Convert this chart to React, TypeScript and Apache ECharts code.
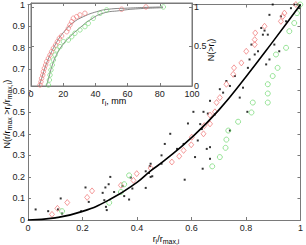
import React, { useEffect, useRef } from "react";
import * as echarts from "echarts";

// Main panel: normalised radius vs cumulative fraction
const blackDots: number[][] = [
  [0.028, 0.049], [0.074, 0.041], [0.11, 0.049], [0.12, 0.1], [0.125, 0.03], [0.195, 0.041],
  [0.211, 0.151], [0.223, 0.084], [0.274, 0.126], [0.284, 0.151], [0.28, 0.092], [0.286, 0.061],
  [0.289, 0.046], [0.296, 0.166], [0.302, 0.2], [0.316, 0.13], [0.347, 0.157], [0.353, 0.111],
  [0.371, 0.095], [0.377, 0.197], [0.383, 0.146], [0.432, 0.226], [0.432, 0.149], [0.45, 0.261],
  [0.447, 0.25], [0.456, 0.203], [0.444, 0.218], [0.45, 0.2], [0.49, 0.261], [0.502, 0.353],
  [0.49, 0.3], [0.522, 0.4], [0.547, 0.33], [0.571, 0.353], [0.575, 0.187], [0.587, 0.448],
  [0.613, 0.292], [0.607, 0.502], [0.632, 0.445], [0.638, 0.422], [0.641, 0.238], [0.66, 0.494],
  [0.656, 0.33], [0.668, 0.338], [0.668, 0.284], [0.644, 0.502], [0.623, 0.369], [0.741, 0.415],
  [0.805, 0.502], [0.668, 0.553], [0.686, 0.49], [0.704, 0.607], [0.728, 0.645], [0.716, 0.591],
  [0.741, 0.622], [0.759, 0.668], [0.777, 0.568], [0.789, 0.614], [0.807, 0.706], [0.813, 0.745],
  [0.82, 0.814], [0.844, 0.783], [0.832, 0.768], [0.862, 0.86], [0.856, 0.891], [0.868, 0.879],
  [0.88, 0.86], [0.886, 0.952], [0.898, 1.0], [0.904, 0.814], [0.922, 0.783], [0.928, 0.945],
  [0.947, 0.922], [0.965, 0.983], [0.977, 1.0], [0.989, 1.0], [0.995, 0.983], [0.874, 0.722],
  [0.886, 0.745]
];

const redDiamonds: number[][] = [
  [0.088, 0.026], [0.108, 0.054], [0.144, 0.081], [0.217, 0.105], [0.235, 0.135], [0.341, 0.161],
  [0.387, 0.184], [0.399, 0.215], [0.45, 0.241], [0.528, 0.269], [0.555, 0.296], [0.571, 0.323],
  [0.599, 0.349], [0.601, 0.384], [0.644, 0.4], [0.647, 0.438], [0.668, 0.446], [0.668, 0.487],
  [0.686, 0.502], [0.692, 0.545], [0.704, 0.568], [0.728, 0.63], [0.753, 0.676], [0.756, 0.706],
  [0.783, 0.729], [0.801, 0.783], [0.832, 0.814], [0.832, 0.837], [0.834, 0.868], [0.868, 0.899],
  [0.928, 0.922], [0.935, 0.945], [0.941, 0.96], [0.983, 1.0]
];

const greenCircles: number[][] = [
  [0.125, 0.041], [0.298, 0.08], [0.341, 0.13], [0.353, 0.166], [0.371, 0.207], [0.676, 0.249],
  [0.704, 0.292], [0.725, 0.335], [0.728, 0.373], [0.735, 0.415], [0.771, 0.456], [0.82, 0.499],
  [0.825, 0.545], [0.88, 0.545], [0.88, 0.587], [0.88, 0.63], [0.898, 0.668], [0.916, 0.706],
  [0.91, 0.768], [0.947, 0.799], [0.959, 0.876], [0.977, 0.914], [0.987, 0.96], [0.999, 1.0]
];

const fitCurve: number[][] = [
  [0, 0], [0.1, 0.01], [0.2, 0.04], [0.3, 0.095], [0.4, 0.175], [0.45, 0.228], [0.5, 0.275],
  [0.6, 0.382], [0.7, 0.51], [0.8, 0.665], [0.9, 0.83], [1.0, 1.0]
];

// Inset: radius in mm vs N(>r_i)
const insetRed: number[][] = [
  [5.6, 0.013], [6.2, 0.054], [6.6, 0.097], [7.3, 0.139], [7.7, 0.181], [8.3, 0.224], [9.1, 0.266],
  [9.7, 0.308], [10.8, 0.35], [11.8, 0.392], [12.8, 0.434], [13.9, 0.477], [15.3, 0.519],
  [16.4, 0.561], [17.6, 0.603], [19, 0.633], [22.2, 0.687], [23.2, 0.73], [24.2, 0.772],
  [25.3, 0.814], [26.3, 0.857], [28.4, 0.877], [30.4, 0.899], [33.5, 0.92], [56.3, 0.971], [71.4, 1.0]
];

const insetGreen: number[][] = [
  [10.8, 0.013], [11.4, 0.076], [11.8, 0.139], [12.4, 0.203], [13.2, 0.266], [13.9, 0.329],
  [14.9, 0.392], [16, 0.456], [18, 0.498], [20.1, 0.561], [23.2, 0.582], [25.3, 0.624],
  [27.3, 0.667], [30.4, 0.709], [33.5, 0.751], [35.6, 0.793], [38.7, 0.857], [42.9, 0.92],
  [47, 0.962], [82.2, 1.0]
];

const insetFitRed: number[][] = [
  [5, 0], [7, 0.12], [9, 0.25], [12, 0.4], [15, 0.52], [18, 0.62], [22, 0.72], [26, 0.8],
  [32.5, 0.877], [40.8, 0.94], [48, 0.971], [60, 0.985], [72, 0.995], [82, 1.0]
];

const insetFitGreen: number[][] = [
  [9.5, 0], [11, 0.1], [13, 0.25], [16, 0.4], [20, 0.53], [24.2, 0.624], [30, 0.73],
  [36.6, 0.835], [44.7, 0.92], [55, 0.953], [65, 0.975], [82, 0.99]
];

const FONT = "'Liberation Sans', Arial, sans-serif";
const AXIS = "#7a7a7a";
const TXT = "#222";
const RED = "#f07474";
const GREEN = "#6fd86f";

function rich() {
  return {
    n: { fontSize: 9, fontFamily: FONT, color: TXT, lineHeight: 12, verticalAlign: "middle" },
    s: { fontSize: 7, fontFamily: FONT, color: TXT, lineHeight: 7, verticalAlign: "bottom" }
  };
}

export default function App() {
  const ref = useRef<HTMLDivElement>(null);
  useEffect(() => {
    if (!ref.current) return;
    const chart = echarts.init(ref.current, undefined, { renderer: "svg" });
    const axisBase = (show: boolean) => ({
      axisLine: { show: true, onZero: false, lineStyle: { color: AXIS, width: 1 } },
      axisTick: { show: true, inside: true, length: 3, lineStyle: { color: AXIS } },
      axisLabel: { show, fontSize: 9, fontFamily: FONT, color: TXT, margin: 3 },
      splitLine: { show: false }
    });
    chart.setOption({
      animation: false,
      grid: [
        { left: 28, top: 3, width: 275, height: 217, show: false },
        {
          left: 31, top: 3, width: 161, height: 83, show: true, z: 10,
          backgroundColor: "#fff", borderColor: AXIS, borderWidth: 1
        }
      ],
      xAxis: [
        { type: "value", gridIndex: 0, min: 0, max: 1, interval: 0.2, position: "bottom", ...axisBase(true) },
        { type: "value", gridIndex: 0, min: 0, max: 1, interval: 0.2, position: "top", ...axisBase(false) },
        { type: "value", gridIndex: 1, min: 0, max: 100, interval: 20, position: "bottom", z: 11, ...axisBase(true) },
        { type: "value", gridIndex: 1, min: 0, max: 100, interval: 20, position: "top", z: 11, ...axisBase(false) }
      ],
      yAxis: [
        { type: "value", gridIndex: 0, min: 0, max: 1, interval: 0.1, position: "left", ...axisBase(true) },
        { type: "value", gridIndex: 0, min: 0, max: 1, interval: 0.1, position: "right", ...axisBase(false) },
        {
          type: "value", gridIndex: 1, min: 0, max: 1.05, interval: 0.5, position: "right", z: 11,
          ...axisBase(true),
          axisLabel: { show: true, fontSize: 9, fontFamily: FONT, color: TXT, margin: 2, showMaxLabel: false }
        },
        { type: "value", gridIndex: 1, min: 0, max: 1.05, interval: 0.5, position: "left", z: 11, ...axisBase(false) }
      ],
      series: [
        {
          type: "scatter", xAxisIndex: 0, yAxisIndex: 0, data: blackDots, symbol: "rect", symbolSize: 2,
          itemStyle: { color: "#000" }, z: 3
        },
        {
          type: "scatter", xAxisIndex: 0, yAxisIndex: 0, data: redDiamonds, symbol: "diamond", symbolSize: [5, 6],
          itemStyle: { color: "transparent", borderColor: RED, borderWidth: 0.9 }, z: 3
        },
        {
          type: "scatter", xAxisIndex: 0, yAxisIndex: 0, data: greenCircles, symbol: "circle", symbolSize: 5,
          itemStyle: { color: "transparent", borderColor: GREEN, borderWidth: 0.9 }, z: 3
        },
        {
          type: "line", xAxisIndex: 0, yAxisIndex: 0, data: fitCurve, smooth: true, showSymbol: false,
          lineStyle: { color: "#000", width: 1.6 }, z: 4
        },
        {
          type: "line", xAxisIndex: 2, yAxisIndex: 2, data: insetFitRed, smooth: true, showSymbol: false,
          lineStyle: { color: "#555", width: 0.7 }, z: 12
        },
        {
          type: "line", xAxisIndex: 2, yAxisIndex: 2, data: insetFitGreen, smooth: true, showSymbol: false,
          lineStyle: { color: "#555", width: 0.7 }, z: 12
        },
        {
          type: "scatter", xAxisIndex: 2, yAxisIndex: 2, data: insetRed, symbol: "circle", symbolSize: 4.5,
          itemStyle: { color: "transparent", borderColor: RED, borderWidth: 0.8 }, z: 13
        },
        {
          type: "scatter", xAxisIndex: 2, yAxisIndex: 2, data: insetGreen, symbol: "circle", symbolSize: 4.5,
          itemStyle: { color: "transparent", borderColor: GREEN, borderWidth: 0.8 }, z: 13
        }
      ],
      graphic: [
        {
          type: "text", x: 7, y: 114, rotation: Math.PI / 2, z: 20,
          style: {
            text: "{n|N(r/r}{s|max}{n| >r}{s|i}{n|/r}{s|max,i}{n|)}",
            rich: rich(), align: "center", verticalAlign: "middle"
          }
        },
        {
          type: "text", x: 166, y: 239, z: 20,
          style: { text: "{n|r}{s|i}{n|/r}{s|max,i}", rich: rich(), align: "center", verticalAlign: "middle" }
        },
        {
          type: "text", x: 114, y: 101, z: 20,
          style: { text: "{n|r}{s|i}{n|, mm}", rich: rich(), align: "center", verticalAlign: "middle" }
        },
        {
          type: "text", x: 211, y: 50, rotation: Math.PI / 2, z: 20,
          style: { text: "{n|N(>r}{s|i}{n|)}", rich: rich(), align: "center", verticalAlign: "middle" }
        }
      ]
    });
    return () => chart.dispose();
  }, []);
  return (
    <div
      ref={ref}
      style={{ position: "fixed", left: 0, top: 0, width: 306, height: 245, background: "#fff" }}
    />
  );
}
